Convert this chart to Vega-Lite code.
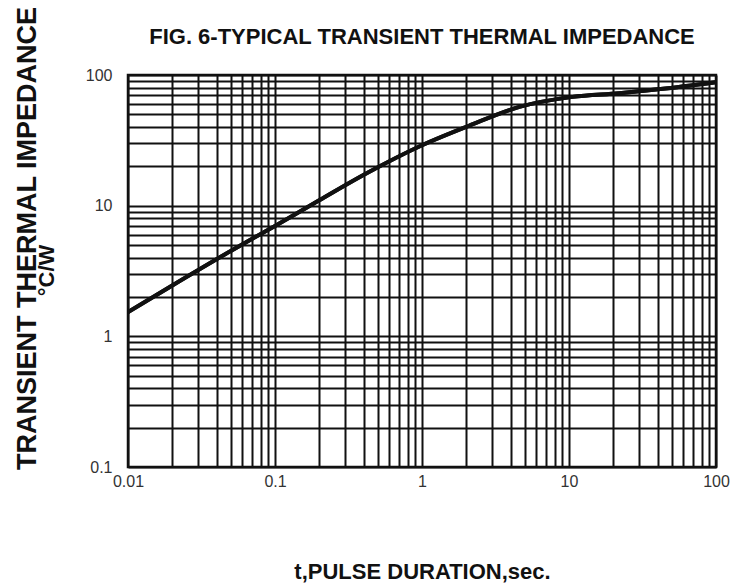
{
  "$schema": "https://vega.github.io/schema/vega-lite/v6.json",
  "width": 588,
  "height": 392,
  "autosize": {"type": "none"},
  "padding": {"left": 128, "top": 75, "right": 19, "bottom": 116},
  "background": "white",
  "config": {
    "view": {"stroke": "#111", "strokeWidth": 2.5},
    "font": "Liberation Sans"
  },
  "title": {
    "text": "FIG. 6-TYPICAL TRANSIENT THERMAL IMPEDANCE",
    "font": "Liberation Sans",
    "fontSize": 22,
    "fontWeight": "bold",
    "color": "#111",
    "anchor": "middle",
    "frame": "group",
    "offset": -43
  },
  "data": {
    "values": [
      {"t": 0.01, "z": 1.53},
      {"t": 0.02, "z": 2.45},
      {"t": 0.05, "z": 4.5},
      {"t": 0.1, "z": 7.0},
      {"t": 0.2, "z": 11.0},
      {"t": 0.42, "z": 17.7},
      {"t": 1.0, "z": 29.0},
      {"t": 2.1, "z": 41.0},
      {"t": 4.6, "z": 57.0},
      {"t": 10.6, "z": 68.0},
      {"t": 22, "z": 72.5},
      {"t": 42, "z": 78.0},
      {"t": 100, "z": 88.0}
    ]
  },
  "encoding": {
    "x": {
      "field": "t",
      "type": "quantitative",
      "scale": {"type": "log", "domain": [0.01, 100], "nice": false},
      "axis": {
        "title": "t,PULSE DURATION,sec.",
        "titleFont": "Liberation Sans",
        "titleFontSize": 22,
        "titleFontWeight": "bold",
        "titleColor": "#111",
        "titlePadding": 72,
        "values": [0.01,0.02,0.03,0.04,0.05,0.06,0.07,0.08,0.09,0.1,0.2,0.3,0.4,0.5,0.6,0.7,0.8,0.9,1,2,3,4,5,6,7,8,9,10,20,30,40,50,60,70,80,90,100],
        "format": "~g",
        "labelExpr": "indexof([0.01,0.1,1,10,100], datum.value) >= 0 ? datum.label : ''",
        "labelOverlap": false,
        "labelFlush": false,
        "labelFontSize": 16,
        "labelColor": "#333",
        "labelPadding": 6,
        "ticks": false,
        "domain": false,
        "grid": true,
        "gridColor": "#111",
        "gridWidth": 2,
        "gridOpacity": 1
      }
    }
  },
  "layer": [
    {
      "mark": {"type": "line", "color": "#111", "strokeWidth": 4, "interpolate": "monotone", "clip": true},
      "encoding": {
        "y": {
          "field": "z",
          "type": "quantitative",
          "scale": {"type": "log", "domain": [0.1, 100], "nice": false},
          "axis": {
            "title": "TRANSIENT THERMAL IMPEDANCE",
            "titleFont": "Liberation Sans",
            "titleFontSize": 27,
            "titleFontWeight": "bold",
            "titleColor": "#111",
            "titleBaseline": "alphabetic",
            "titleX": -93,
            "titleY": 163,
            "values": [0.1,0.2,0.3,0.4,0.5,0.6,0.7,0.8,0.9,1,2,3,4,5,6,7,8,9,10,20,30,40,50,60,70,80,90,100],
            "format": "~g",
            "labelExpr": "indexof([0.1,1,10,100], datum.value) >= 0 ? datum.label : ''",
            "labelOverlap": false,
            "labelFontSize": 16,
            "labelColor": "#333",
            "labelPadding": 16,
            "ticks": false,
            "domain": false,
            "grid": true,
            "gridColor": "#111",
            "gridWidth": 2,
            "gridOpacity": 1
          }
        }
      }
    },
    {
      "mark": {"type": "line", "color": "#111", "strokeWidth": 4, "interpolate": "monotone", "clip": true},
      "encoding": {
        "y": {
          "field": "z",
          "type": "quantitative",
          "scale": {"type": "log", "domain": [0.1, 100], "nice": false},
          "axis": {
            "orient": "left",
            "title": "°C/W",
            "titleFont": "Liberation Sans",
            "titleFontSize": 22,
            "titleFontWeight": "bold",
            "titleColor": "#111",
            "titleBaseline": "alphabetic",
            "titleX": -75,
            "titleY": 195,
            "labels": false,
            "ticks": false,
            "domain": false,
            "grid": false
          }
        }
      }
    }
  ],
  "resolve": {"axis": {"y": "independent"}}
}
